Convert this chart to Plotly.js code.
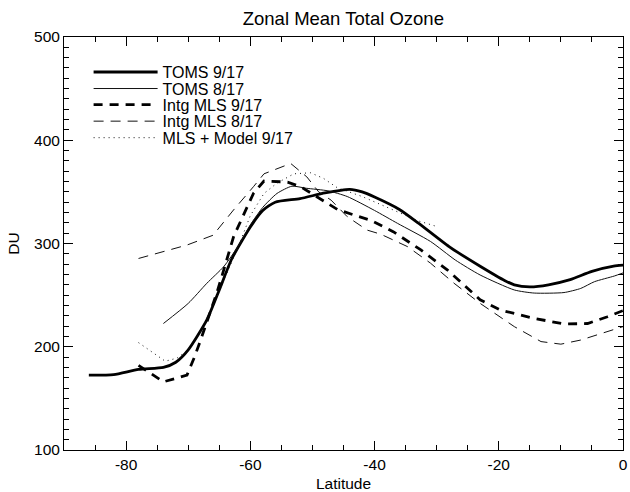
<!DOCTYPE html>
<html>
<head>
<meta charset="utf-8">
<script src="https://cdn.plot.ly/plotly-3.0.1.min.js"></script>
<style>html,body{margin:0;padding:0;background:#fff;}#chart{width:630px;height:492px;}</style>
</head>
<body>
<div id="chart"></div>
<script>
// Data
const toms917Lat = [-86, -82, -78, -74, -72, -70, -67, -65, -63, -60, -58, -56, -52, -48, -44, -42, -40, -36, -33, -28, -23, -19, -17.5, -15, -12, -8.5, -5, -1.5, 0];
const toms917DU  = [172.5, 173, 178, 180, 185, 197, 226, 255, 285, 316, 332, 340, 343.5, 349, 352.5, 350, 345, 333, 320, 297, 278, 264, 260, 258, 260, 265, 273, 278, 279];

const toms817Lat = [-74, -70, -67, -64.3, -62, -60, -58, -55.7, -53.3, -51, -47.5, -44.4, -40, -36.3, -31, -27, -23, -17.5, -14.3, -9.5, -6.8, -4.6, -1.4, 0];
const toms817DU  = [222.5, 242, 261.5, 277.5, 297, 318, 335, 348.5, 355.5, 353.5, 351, 345.5, 332, 319.5, 302, 284, 269.5, 255, 252, 252.5, 256.5, 263, 268.5, 271.5];

const mls917Lat = [-78, -74, -70.2, -69, -68, -66.7, -65.4, -64.3, -62.7, -61, -59.5, -57.8, -54, -51.9, -49.5, -46, -43, -40.6, -37, -32.6, -28.3, -23, -19.7, -14.3, -9.5, -5.7, -2.5, 0];
const mls917DU  = [182, 166, 172.5, 190, 206.5, 229, 252, 274, 306.5, 329, 348.5, 360.5, 359.5, 355, 346, 333, 327, 322.5, 311.5, 294, 274.5, 245.5, 235.5, 227.5, 222, 222.5, 229, 235];

const mls817Lat = [-78, -70.2, -66, -62.7, -59.5, -57.8, -53.5, -50.9, -49, -47, -44.4, -41.2, -39, -34.7, -31, -27.2, -23, -17.5, -13.2, -10, -6.8, -3.5, 0];
const mls817DU  = [285.5, 298.5, 308, 332.5, 355, 367.5, 377.5, 364.5, 350, 342, 326, 313, 309, 297, 281, 261.5, 242, 219.5, 205, 202.5, 206.5, 213, 219.5];

const modelLat = [-78, -75.6, -73.7, -71.8, -70, -68, -66, -64, -62, -60, -57.8, -55.7, -53, -50.3, -48.2, -46, -42, -37, -33, -30];
const modelDU  = [204, 193.5, 186, 189, 197, 215, 240, 268, 296, 327, 348.5, 358.5, 367.5, 368.5, 363, 354, 345.5, 332.5, 322, 316.5];

const seriesNames = ["TOMS 9/17", "TOMS 8/17", "Intg MLS 9/17", "Intg MLS 8/17", "MLS + Model 9/17"];
const legendIds = ['legend', 'legend2', 'legend3', 'legend4', 'legend5'];

const traces = [
  {x: toms917Lat, y: toms917DU, line: {color: '#000', width: 2.8, dash: 'solid', shape: 'spline', smoothing: 0.6}},
  {x: toms817Lat, y: toms817DU, line: {color: '#111', width: 1, dash: 'solid', shape: 'spline', smoothing: 0.6}},
  {x: mls917Lat, y: mls917DU, line: {color: '#000', width: 2.8, dash: '9px,7px'}},
  {x: mls817Lat, y: mls817DU, line: {color: '#111', width: 1, dash: '10px,7px'}},
  {x: modelLat, y: modelDU, line: {color: '#111', width: 1, dash: '1px,4px'}}
].map((t, i) => Object.assign({type: 'scatter', mode: 'lines', hoverinfo: 'skip', name: seriesNames[i], legend: legendIds[i]}, t));

const fontFam = 'Liberation Sans, Arial, Helvetica, sans-serif';
const legendRowsY = [0.915, 0.875, 0.836, 0.796, 0.756];

const layout = {
  width: 630, height: 492,
  margin: {l: 64, r: 7, t: 37, b: 42},
  paper_bgcolor: '#fff', plot_bgcolor: '#fff',
  font: {family: fontFam, color: '#000', size: 15},
  title: {text: 'Zonal Mean Total Ozone', font: {size: 18.5, family: fontFam, color: '#000'}, x: 0.545, xanchor: 'center', y: 0.963, yanchor: 'middle'},
  showlegend: true,
  xaxis: {
    range: [-90, 0], tickmode: 'array', tickvals: [-80, -60, -40, -20, 0], ticktext: ['-80', '-60', '-40', '-20', '0'],
    ticks: 'inside', ticklen: 9, tickwidth: 1, tickcolor: '#000',
    minor: {dtick: 5, tick0: 0, ticks: 'inside', ticklen: 5, tickcolor: '#000', showgrid: false},
    showline: true, linecolor: '#000', linewidth: 1, mirror: 'ticks', showgrid: false, zeroline: false,
    tickfont: {size: 15.5, family: fontFam, color: '#000'},
    title: {text: 'Latitude', font: {size: 15.5, family: fontFam, color: '#000'}, standoff: 6}
  },
  yaxis: {
    range: [100, 500], tickmode: 'array', tickvals: [100, 200, 300, 400, 500],
    ticks: 'inside', ticklen: 9, tickwidth: 1, tickcolor: '#000',
    minor: {dtick: 10, tick0: 0, ticks: 'inside', ticklen: 5, tickcolor: '#000', showgrid: false},
    showline: true, linecolor: '#000', linewidth: 1, mirror: 'ticks', showgrid: false, zeroline: false,
    tickfont: {size: 15.5, family: fontFam, color: '#000'},
    title: {text: 'DU', font: {size: 15.5, family: fontFam, color: '#000'}, standoff: 10}
  }
};

legendIds.forEach((id, i) => {
  layout[id] = {x: 0.044, y: legendRowsY[i], xanchor: 'left', yanchor: 'middle',
    bgcolor: 'rgba(0,0,0,0)', borderwidth: 0, itemwidth: 64,
    font: {size: 16, family: fontFam, color: '#000'}};
});

Plotly.newPlot('chart', traces, layout, {staticPlot: true, displayModeBar: false});
</script>
</body>
</html>
